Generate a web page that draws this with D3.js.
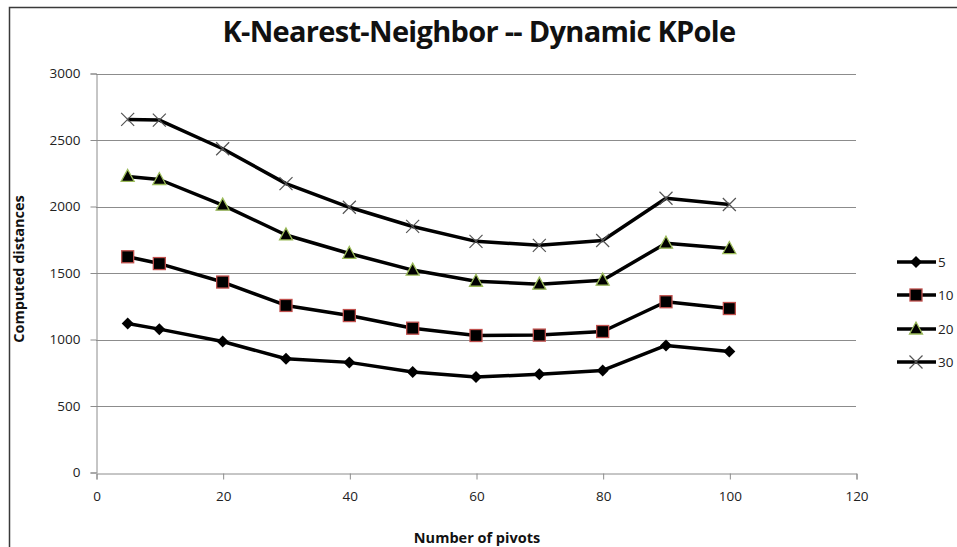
<!DOCTYPE html>
<html><head><meta charset="utf-8">
<script src="https://cdn.jsdelivr.net/npm/d3@7"></script>
<style>
html,body{margin:0;padding:0;background:#fff;}
svg{display:block;}
text{font-family:"Open Sans","Noto Sans",Lato,sans-serif;}
</style></head>
<body>
<svg id="chart" width="957" height="547"></svg>
<script>
const pivots = [5, 10, 20, 30, 40, 50, 60, 70, 80, 90, 100];
const seriesNames = ["5", "10", "20", "30"];
const k5  = [1120, 1078, 985, 855, 828, 755, 718, 738, 767, 955, 910];
const k10 = [1622, 1571, 1432, 1256, 1180, 1085, 1030, 1033, 1060, 1284, 1233];
const k20 = [2226, 2203, 2010, 1786, 1647, 1522, 1438, 1416, 1446, 1724, 1684];
const k30 = [2655, 2650, 2434, 2172, 1994, 1850, 1738, 1708, 1744, 2062, 2015];
const xTicks = [0, 20, 40, 60, 80, 100, 120];
const yTicks = [0, 500, 1000, 1500, 2000, 2500, 3000];
const title = "K-Nearest-Neighbor -- Dynamic KPole";
const xTitle = "Number of pivots";
const yTitle = "Computed distances";

const series = [
  {name: seriesNames[0], values: k5,  marker: "diamond"},
  {name: seriesNames[1], values: k10, marker: "square"},
  {name: seriesNames[2], values: k20, marker: "triangle"},
  {name: seriesNames[3], values: k30, marker: "cross"}
];

const svg = d3.select("#chart");
const pLeft = 96, pRight = 856, pTop = 73.5, pBottom = 472.5;
const x = d3.scaleLinear().domain([0, 120]).range([pLeft, pRight]);
const y = d3.scaleLinear().domain([0, 3000]).range([pBottom, pTop]);

// outer frame
svg.append("path").attr("d", "M9.5,547 L9.5,7.5 L957,7.5")
  .attr("fill", "none").attr("stroke", "#3a3a3a").attr("stroke-width", 1.5);

// title
svg.append("text").attr("x", 479).attr("y", 42).attr("text-anchor", "middle")
  .attr("font-size", 29).attr("font-weight", "bold").attr("fill", "#111")
  .attr("letter-spacing", -0.7)
  .text(title);

// gridlines
svg.append("g").selectAll("line").data(yTicks.filter(d => d > 0)).join("line")
  .attr("x1", pLeft).attr("x2", pRight)
  .attr("y1", d => Math.round(y(d)) + 0.5).attr("y2", d => Math.round(y(d)) + 0.5)
  .attr("stroke", "#8c8c8c").attr("stroke-width", 1);

// axes
const yAxis = d3.axisLeft(y).tickValues(yTicks).tickSize(6).tickPadding(10).tickFormat(d3.format("d"));
const gy = svg.append("g").attr("transform", `translate(${pLeft + 0.5},0)`).call(yAxis);
const xAxis = d3.axisBottom(x).tickValues(xTicks).tickSize(6).tickPadding(12).tickFormat(d3.format("d"));
const gx = svg.append("g").attr("transform", `translate(0.5,${Math.round(pBottom) + 0.5})`).call(xAxis);
[gx, gy].forEach(g => {
  g.select(".domain").attr("stroke", "#8c8c8c");
  g.selectAll(".tick line").attr("stroke", "#8c8c8c");
  g.selectAll(".tick text").attr("font-size", 13.5).attr("fill", "#222")
    .style("font-family", "'Open Sans', sans-serif");
});

// axis titles
svg.append("text").attr("x", 477).attr("y", 543).attr("text-anchor", "middle")
  .attr("font-size", 14.5).attr("font-weight", "bold").attr("fill", "#111")
  .attr("letter-spacing", 0).text(xTitle);
svg.append("text").attr("transform", `translate(24,${(pTop + pBottom) / 2 - 4}) rotate(-90)`)
  .attr("text-anchor", "middle").attr("font-size", 14.5).attr("font-weight", "bold")
  .attr("fill", "#111").attr("letter-spacing", 0).text(yTitle);

// marker drawing
function drawMarker(g, type, cx, cy) {
  if (type === "diamond") {
    g.append("path").attr("d", `M${cx},${cy - 6}L${cx + 6},${cy}L${cx},${cy + 6}L${cx - 6},${cy}Z`)
      .attr("fill", "#000");
  } else if (type === "square") {
    g.append("rect").attr("x", cx - 6).attr("y", cy - 6).attr("width", 12).attr("height", 12)
      .attr("fill", "#000").attr("stroke", "#c0504d").attr("stroke-width", 1.3);
  } else if (type === "triangle") {
    g.append("path").attr("d", `M${cx},${cy - 7}L${cx + 6.5},${cy + 5}L${cx - 6.5},${cy + 5}Z`)
      .attr("fill", "#000").attr("stroke", "#9bbb59").attr("stroke-width", 1.3);
  } else {
    g.append("path").attr("d", `M${cx - 6.5},${cy - 6.5}L${cx + 6.5},${cy + 6.5}M${cx - 6.5},${cy + 6.5}L${cx + 6.5},${cy - 6.5}`)
      .attr("stroke", "#555").attr("stroke-width", 1.2).attr("fill", "none");
  }
}

const line = d3.line().x((d, i) => x(pivots[i])).y(d => y(d));
series.forEach(s => {
  const g = svg.append("g");
  g.append("path").datum(s.values).attr("d", line).attr("fill", "none")
    .attr("stroke", "#000").attr("stroke-width", 3.5).attr("stroke-linejoin", "round");
  s.values.forEach((v, i) => drawMarker(g, s.marker, x(pivots[i]), y(v)));
});

// legend
const legendY = [262, 295, 329, 362];
series.forEach((s, i) => {
  const g = svg.append("g");
  const ly = legendY[i];
  g.append("line").attr("x1", 897).attr("x2", 936).attr("y1", ly).attr("y2", ly)
    .attr("stroke", "#000").attr("stroke-width", 3.5);
  drawMarker(g, s.marker, 916, ly);
  g.append("text").attr("x", 938).attr("y", ly + 5).attr("font-size", 13.5)
    .attr("fill", "#222").text(s.name);
});
</script>
</body></html>
